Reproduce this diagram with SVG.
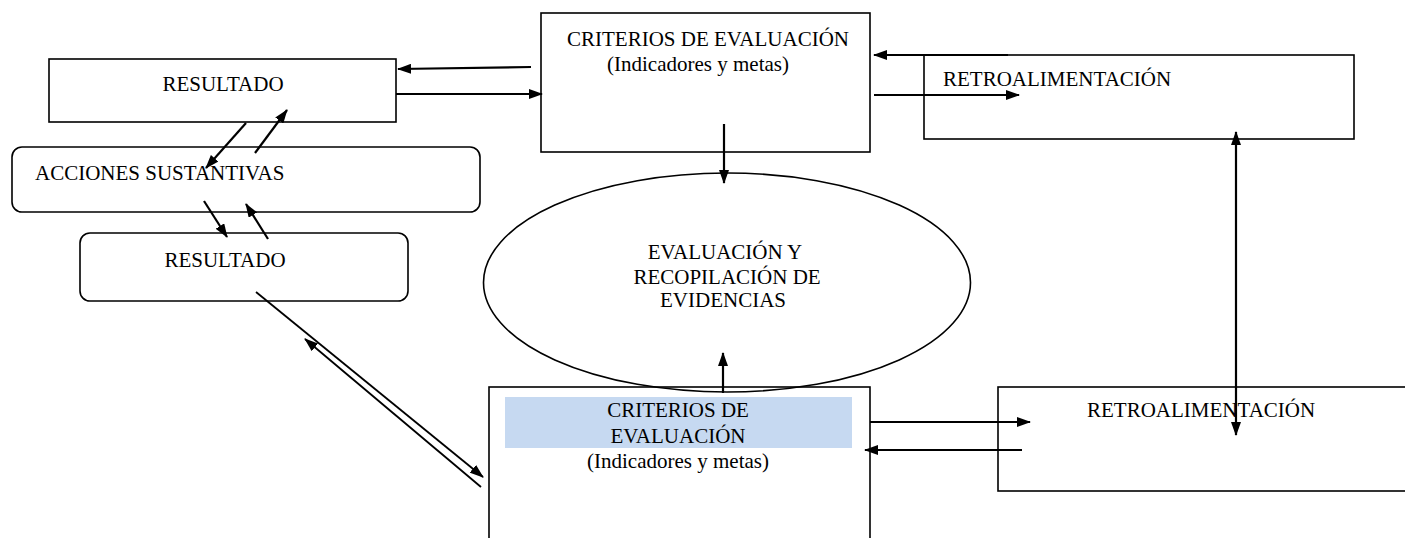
<svg xmlns="http://www.w3.org/2000/svg" width="1405" height="538" viewBox="0 0 1405 538">
<style>
.box{fill:#fff;stroke:#000;stroke-width:1.6}
.t{font-family:"Liberation Serif","Times New Roman",serif;font-size:21px;fill:#000}
.c{text-anchor:middle}
.ln{fill:none;stroke:#000;stroke-width:2.2}
.thin{fill:none;stroke:#000;stroke-width:1.8}
</style>
<defs>
<marker id="ah" viewBox="0 0 14 10" refX="13" refY="5" markerWidth="14" markerHeight="10" markerUnits="userSpaceOnUse" orient="auto-start-reverse">
<path d="M0,0 L14,5 L0,10 z" fill="#000"/>
</marker>
</defs>
<rect width="1405" height="538" fill="#fff"/>

<g id="resultado1">
<rect class="box" x="49" y="59" width="347" height="63"/>
<text class="t c" x="223" y="91">RESULTADO</text>
</g>

<g id="acciones">
<rect class="box" x="12" y="147" width="468" height="65" rx="10"/>
<text class="t" x="35" y="180" font-size="20">ACCIONES SUSTANTIVAS</text>
</g>

<g id="resultado2">
<rect class="box" x="80" y="233" width="328" height="68" rx="10"/>
<text class="t c" x="225" y="267">RESULTADO</text>
</g>

<g id="criterios1">
<rect class="box" x="541" y="13" width="329" height="139"/>
<text class="t c" x="708" y="46">CRITERIOS DE EVALUACIÓN</text>
<text class="t c" x="698" y="71" font-size="22.5">(Indicadores y metas)</text>
</g>

<g id="retro1">
<rect class="box" x="924" y="55" width="430" height="84"/>
<text class="t" x="943" y="86">RETROALIMENTACIÓN</text>
</g>

<g id="criterios2">
<rect class="box" x="489" y="387" width="381" height="170"/>
<rect x="505" y="397" width="347" height="51" fill="#c6d9f1"/>
<text class="t c" x="678" y="417">CRITERIOS DE</text>
<text class="t c" x="678" y="443">EVALUACIÓN</text>
<text class="t c" x="678" y="468">(Indicadores y metas)</text>
</g>

<g id="evaluacion">
<ellipse cx="727" cy="282.5" rx="243.5" ry="109.5" fill="none" stroke="#000" stroke-width="1.6"/>
<text class="t c" x="725" y="259" font-size="20.5">EVALUACIÓN Y</text>
<text class="t c" x="727" y="284" font-size="20.5">RECOPILACIÓN DE</text>
<text class="t c" x="723" y="307" font-size="20.5">EVIDENCIAS</text>
</g>

<g id="retro2">
<rect class="box" x="998" y="387" width="420" height="104"/>
<text class="t" x="1087" y="417">RETROALIMENTACIÓN</text>
</g>

<g id="connectors">
<line class="ln" x1="531" y1="67" x2="398" y2="69" marker-end="url(#ah)"/>
<line class="ln" x1="396" y1="94" x2="542" y2="94" marker-end="url(#ah)"/>
<line class="ln" x1="246" y1="123" x2="206" y2="168" marker-end="url(#ah)"/>
<line class="ln" x1="255" y1="153" x2="287" y2="110" marker-end="url(#ah)"/>
<line class="ln" x1="204" y1="201" x2="227" y2="237" marker-end="url(#ah)"/>
<line class="ln" x1="268" y1="239" x2="246" y2="204" marker-end="url(#ah)"/>
<line class="thin" x1="256" y1="292" x2="483" y2="477" marker-end="url(#ah)"/>
<line class="thin" x1="481" y1="487" x2="305" y2="339" marker-end="url(#ah)"/>
<line class="ln" x1="1008" y1="55" x2="874" y2="55" marker-end="url(#ah)"/>
<line class="ln" x1="874" y1="95" x2="1019" y2="95" marker-end="url(#ah)"/>
<line class="ln" x1="724" y1="124" x2="724" y2="183" marker-end="url(#ah)"/>
<line class="ln" x1="723" y1="393" x2="723" y2="353" marker-end="url(#ah)"/>
<line class="ln" x1="870" y1="422" x2="1030" y2="422" marker-end="url(#ah)"/>
<line class="ln" x1="1022" y1="450" x2="865" y2="450" marker-end="url(#ah)"/>
<line class="ln" x1="1236" y1="132" x2="1236" y2="435" marker-start="url(#ah)" marker-end="url(#ah)"/>
</g>
</svg>
